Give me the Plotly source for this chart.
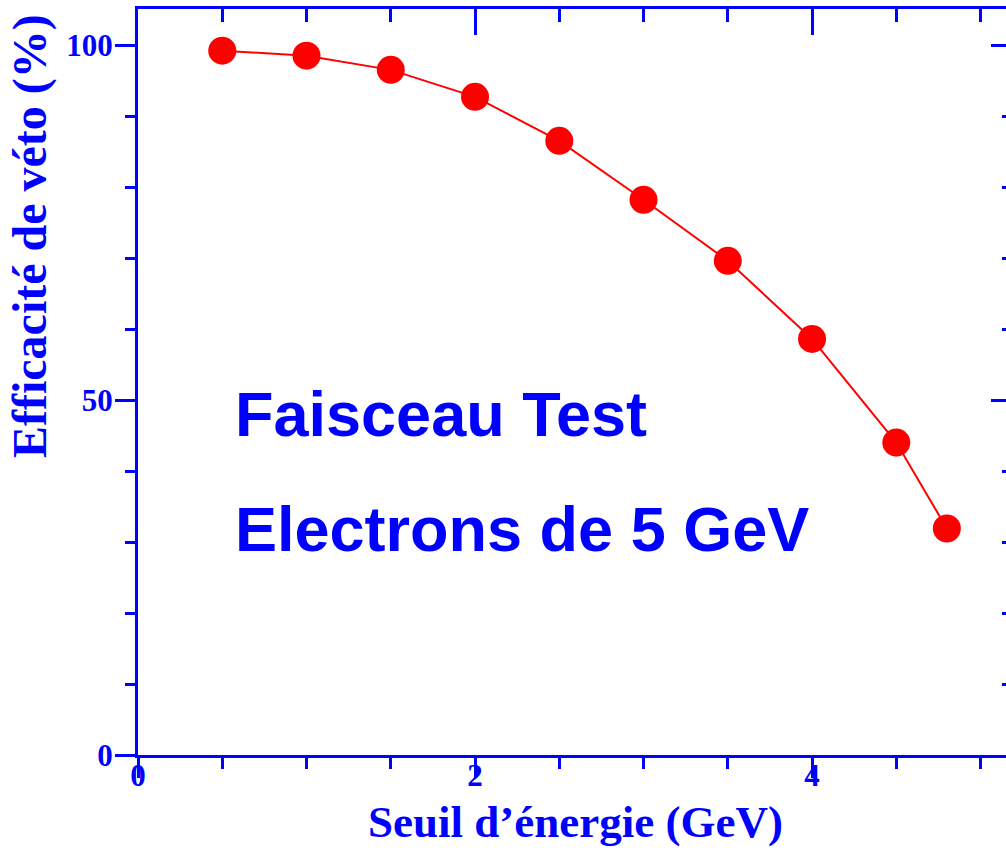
import plotly.graph_objects as go

# Seuil d'énergie (GeV) et efficacité de véto (%)
seuil_gev = [0.5, 1.0, 1.5, 2.0, 2.5, 3.0, 3.5, 4.0, 4.5, 4.8]
efficacite = [99.2, 98.5, 96.5, 92.7, 86.5, 78.2, 69.6, 58.6, 44.0, 31.9]

x_ticks = [0, 2, 4]
x_tick_text = ["0", "2", "4"]
y_ticks = [0, 50, 100]
y_tick_text = ["0", "50", "100"]

BLUE = "#0000FF"
RED = "#FF0000"
SERIF = "Liberation Serif"
SANS = "Liberation Sans"

W, H = 1006, 850
L, R, T, B = 138, 0, 9, 95
X_RANGE = [0, 5.151]
Y_RANGE = [0, 105.07]

fig = go.Figure()
fig.add_trace(go.Scatter(
    x=seuil_gev, y=efficacite, mode="lines+markers",
    line=dict(color=RED, width=2),
    marker=dict(color=RED, size=28, line=dict(width=0)),
    showlegend=False, hoverinfo="x+y",
))
# Same data on the mirrored top/right axes so that they get drawn
fig.add_trace(go.Scatter(
    x=seuil_gev, y=efficacite, xaxis="x2", yaxis="y2", mode="markers",
    marker=dict(opacity=0), showlegend=False, hoverinfo="skip",
))

axis_common = dict(
    showgrid=False, zeroline=False, linecolor=BLUE, linewidth=3,
    tickcolor=BLUE, tickwidth=3,
)

fig.update_layout(
    width=W, height=H,
    margin=dict(l=L, r=R, t=T, b=B, pad=0),
    paper_bgcolor="white", plot_bgcolor="white",
    xaxis=dict(
        **axis_common, range=X_RANGE, showline=True,
        ticks="outside", ticklen=20,
        tickmode="array", tickvals=x_ticks, ticktext=x_tick_text,
        tickfont=dict(family=SERIF, size=31, color=BLUE, weight="bold"),
        ticklabelstandoff=-29,
        minor=dict(dtick=0.5, ticks="outside", ticklen=11, tickwidth=3,
                   tickcolor=BLUE, showgrid=False),
    ),
    yaxis=dict(
        **axis_common, range=Y_RANGE, showline=True,
        ticks="outside", ticklen=20,
        tickmode="array", tickvals=y_ticks, ticktext=y_tick_text,
        tickfont=dict(family=SERIF, size=31, color=BLUE, weight="bold"),
        ticklabelstandoff=-4,
        minor=dict(dtick=10, ticks="outside", ticklen=10, tickwidth=3,
                   tickcolor=BLUE, showgrid=False),
    ),
    xaxis2=dict(
        **axis_common, range=X_RANGE, overlaying="x", side="top",
        showline=True, ticks="inside", ticklen=26, showticklabels=False,
        tickmode="array", tickvals=x_ticks,
        minor=dict(dtick=0.5, ticks="inside", ticklen=13, tickwidth=3,
                   tickcolor=BLUE, showgrid=False),
    ),
    yaxis2=dict(
        **axis_common, range=Y_RANGE, overlaying="y", side="right",
        showline=False, ticks="inside", ticklen=15, showticklabels=False,
        tickmode="array", tickvals=y_ticks,
        minor=dict(dtick=10, ticks="inside", ticklen=4, tickwidth=3,
                   tickcolor=BLUE, showgrid=False),
    ),
)

def px_to_paper(px, py):
    return (px - L) / (W - L - R), (H - B - py) / (H - B - T)

annotations = []

# Texte dans le graphique
for label, cy in [("Faisceau Test", 414), ("Electrons de 5 GeV", 529)]:
    ax, ay = px_to_paper(233, cy)
    annotations.append(dict(
        text=label, x=ax, y=ay, xref="paper", yref="paper",
        xanchor="left", yanchor="middle", showarrow=False,
        font=dict(family=SANS, size=63, color=BLUE, weight="bold"),
    ))

# Titres des axes
tx, ty = px_to_paper(575, 822)
annotations.append(dict(
    text="Seuil d’énergie (GeV)", x=tx, y=ty, xref="paper", yref="paper",
    xanchor="center", yanchor="middle", showarrow=False,
    font=dict(family=SERIF, size=45, color=BLUE, weight="bold"),
))
tx, ty = px_to_paper(30, 236)
annotations.append(dict(
    text="Efficacité de véto (%)", x=tx, y=ty, xref="paper", yref="paper",
    xanchor="center", yanchor="middle", showarrow=False, textangle=-90,
    font=dict(family=SERIF, size=48, color=BLUE, weight="bold"),
))

fig.update_layout(annotations=annotations)
fig.write_html("out.html")
